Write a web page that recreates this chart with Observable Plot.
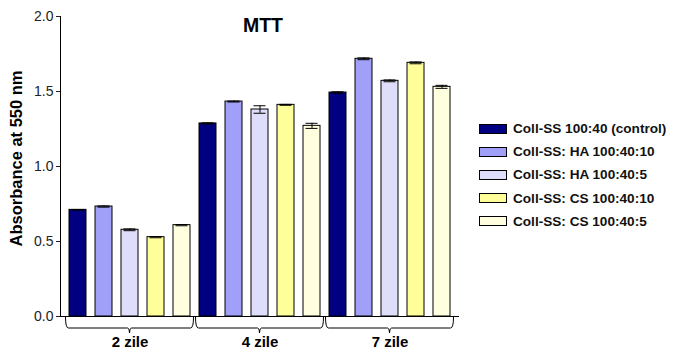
<!DOCTYPE html>
<html><head><meta charset="utf-8">
<script src="https://cdn.jsdelivr.net/npm/d3@7"></script>
<script src="https://cdn.jsdelivr.net/npm/@observablehq/plot@0.6"></script>
<style>
body{margin:0;background:#fff;font-family:"Liberation Sans",Arial,sans-serif;}
#wrap{position:relative;width:677px;height:361px;}
.legend{position:absolute;left:479px;top:117px;}
.item{display:flex;align-items:center;height:23.2px;}
.sw{width:28px;height:10px;box-sizing:border-box;border:1px solid #000;margin-right:6px;}
.lt{font-weight:bold;font-size:13.6px;color:#111;white-space:nowrap;}
</style></head>
<body><div id="wrap"></div>
<script>
const groups = ["2 zile", "4 zile", "7 zile"];
const series = ["Coll-SS 100:40 (control)", "Coll-SS: HA 100:40:10", "Coll-SS: HA 100:40:5", "Coll-SS: CS 100:40:10", "Coll-SS: CS 100:40:5"];
const colors = ["#000080", "#a0a0f8", "#dedefa", "#ffff99", "#ffffe0"];
const valControl = [0.711, 1.287, 1.493];
const valHA10 = [0.733, 1.433, 1.718];
const valHA5 = [0.578, 1.380, 1.571];
const valCS10 = [0.529, 1.411, 1.691];
const valCS5 = [0.609, 1.271, 1.531];
const errControl = [0.002, 0.004, 0.005];
const errHA10 = [0.004, 0.003, 0.006];
const errHA5 = [0.006, 0.025, 0.006];
const errCS10 = [0.004, 0.003, 0.006];
const errCS5 = [0.004, 0.017, 0.010];
const yTicks = [0, 0.5, 1.0, 1.5, 2.0];
const title = "MTT";
const yLabel = "Absorbance at 550 nm";

const vals = [valControl, valHA10, valHA5, valCS10, valCS5];
const errs = [errControl, errHA10, errHA5, errCS10, errCS5];
const keyOf = (g, s) => g + "|" + s;
const rows = [];
groups.forEach((g, gi) => series.forEach((s, si) => {
  rows.push({key: keyOf(g, s), group: g, series: s, value: vals[si][gi], err: errs[si][gi]});
}));
const domainX = rows.map(d => d.key);

function brackets(index, scales) {
  const x = scales.x, y = scales.y;
  const bw = x.bandwidth ? x.bandwidth() : 17;
  const y0 = y(0);
  const g = d3.create("svg:g").attr("fill", "none").attr("stroke", "#000").attr("stroke-width", 1);
  groups.forEach(gr => {
    const x1 = x(keyOf(gr, series[0])) - 3.5;
    const x2 = x(keyOf(gr, series[series.length - 1])) + bw + 3.5;
    const mid = x(keyOf(gr, series[2])) + bw / 2;
    const yl = y0 + 12;
    g.append("path").attr("d",
      `M${x1},${y0 + 1} Q${x1},${yl} ${x1 + 3},${yl} L${mid - 2},${yl} Q${mid},${yl} ${mid},${yl + 5} Q${mid},${yl} ${mid + 2},${yl} L${x2 - 3},${yl} Q${x2},${yl} ${x2},${y0 + 1}`);
  });
  return g.node();
}

const chart = Plot.plot({
  width: 677, height: 361,
  marginLeft: 60, marginRight: 218, marginTop: 16, marginBottom: 45,
  style: {fontFamily: "'Liberation Sans', Arial, sans-serif", background: "#fff", color: "#000"},
  x: {domain: domainX, padding: 0.33, axis: null},
  y: {domain: [0, 2], axis: null},
  color: {domain: series, range: colors},
  marks: [
    Plot.barY(rows, {x: "key", y: "value", fill: "series", stroke: "#000", strokeWidth: 1}),
    Plot.ruleX(rows, {x: "key", y1: d => d.value - d.err, y2: d => d.value + d.err, stroke: "#000"}),
    Plot.tickY(rows, {x: "key", y: d => d.value + d.err, stroke: "#000", insetLeft: 2.5, insetRight: 2.5}),
    Plot.tickY(rows, {x: "key", y: d => d.value - d.err, stroke: "#000", insetLeft: 2.5, insetRight: 2.5}),
    Plot.axisY({ticks: yTicks, tickFormat: d3.format(".1f"), tickSize: 4, tickPadding: 3, fontSize: 14, label: null, color: "#222"}),
    Plot.frame({anchor: "left", stroke: "#000"}),
    Plot.ruleY([0], {stroke: "#000"}),
    brackets,
    Plot.text(groups, {x: g => keyOf(g, series[2]), frameAnchor: "bottom", lineAnchor: "middle", dy: 26, text: d => d, fontSize: 15, fontWeight: "bold", fill: "#000"}),
    Plot.text([title], {frameAnchor: "top", lineAnchor: "middle", dy: 9, dx: 3, text: d => d, fontSize: 19.5, fontWeight: "bold", fill: "#000"}),
    Plot.text([yLabel], {frameAnchor: "left", textAnchor: "middle", lineAnchor: "middle", rotate: -90, dx: -44, dy: -8, text: d => d, fontSize: 16.5, fontWeight: "bold", fill: "#000"})
  ]
});
const wrap = document.getElementById("wrap");
wrap.appendChild(chart);
const leg = document.createElement("div");
leg.className = "legend";
series.forEach((s, i) => {
  const it = document.createElement("div"); it.className = "item";
  const sw = document.createElement("div"); sw.className = "sw"; sw.style.background = colors[i];
  const t = document.createElement("span"); t.className = "lt"; t.textContent = s;
  it.appendChild(sw); it.appendChild(t); leg.appendChild(it);
});
wrap.appendChild(leg);
</script>
</body></html>
